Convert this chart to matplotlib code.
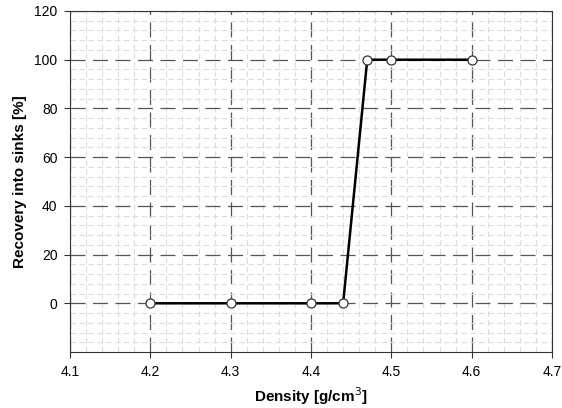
import matplotlib.pyplot as plt
from matplotlib.ticker import MultipleLocator

density = [4.2, 4.3, 4.4, 4.44, 4.47, 4.5, 4.6]
recovery = [0, 0, 0, 0, 100, 100, 100]

plt.rcParams['font.family'] = ['Liberation Sans', 'DejaVu Sans']

fig = plt.figure(figsize=(5.62, 4.08), dpi=100)
ax = fig.add_axes([70 / 562, 1 - 352 / 408, 482 / 562, 341 / 408])

ax.set_xlim(4.1, 4.7)
ax.set_ylim(-20, 120)
ax.xaxis.set_major_locator(MultipleLocator(0.1))
ax.xaxis.set_minor_locator(MultipleLocator(0.02))
ax.set_yticks([0, 20, 40, 60, 80, 100, 120])
ax.yaxis.set_minor_locator(MultipleLocator(4))

ax.grid(which='minor', color='#dcdcdc', linestyle=(0, (5, 3)), linewidth=0.8)
ax.grid(which='major', color='#555555', linestyle=(0, (12, 6)), linewidth=0.9)
ax.tick_params(which='minor', length=0)
ax.tick_params(which='major', direction='out', length=4, color='#333333',
               labelsize=10, pad=5)

for s in ax.spines.values():
    s.set_color('#333333')
    s.set_linewidth(0.8)

ax.plot(density, recovery, color='black', linewidth=1.8, marker='o',
        markersize=6.5, markerfacecolor='white', markeredgecolor='#333333',
        markeredgewidth=0.9, zorder=5, clip_on=False)

ax.set_xlabel('Density [g/cm$^3$]', fontsize=11, fontweight='bold', labelpad=5)
ax.set_ylabel('Recovery into sinks [%]', fontsize=11, fontweight='bold', labelpad=5)

fig.savefig('out.png', dpi=100)
